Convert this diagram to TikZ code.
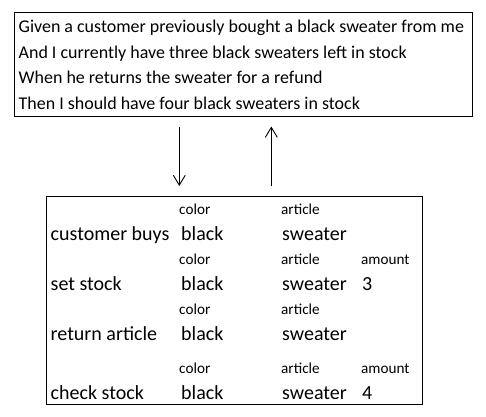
\documentclass[tikz,border=0pt]{standalone}
\usepackage{fontspec}
\setmainfont{Carlito}
\usetikzlibrary{arrows.meta}
\begin{document}
\begin{tikzpicture}[x=1pt,y=-1pt,
  box/.style={draw,line width=1pt,anchor=north west,inner sep=0pt},
  topline/.style={anchor=base west,inner sep=0pt,font=\fontsize{17.95}{20}\selectfont},
  big/.style={anchor=base west,inner sep=0pt,font=\fontsize{20}{22}\selectfont},
  small/.style={anchor=base west,inner sep=0pt,font=\fontsize{15.2}{17}\selectfont},
  arr/.style={line width=0.9pt,-{Straight Barb[length=10pt,width=12pt,line width=0.9pt]}}]
\useasboundingbox (0,0) rectangle (486,416);
% top box
\node[box,minimum width=457.5pt,minimum height=104pt] (top) at (14,11.5) {};
\node[topline] (t1) at (18.5,32.3) {Given a customer previously bought a black sweater from me};
\node[topline] (t2) at (18.5,58) {And I currently have three black sweaters left in stock};
\node[topline] (t3) at (18.5,83.8) {When he returns the sweater for a refund};
\node[topline] (t4) at (18.5,109.7) {Then I should have four black sweaters in stock};
% bottom box
\node[box,minimum width=375.5pt,minimum height=208.5pt] (bot) at (46,195.5) {};
% row 1
\node[small] (c1) at (179,214) {color};
\node[small] (a1) at (281,214) {article};
\node[big] (r1) at (50.5,240) {customer buys};
\node[big] (b1) at (181,240) {black};
\node[big] (s1) at (282,240) {sweater};
% row 2
\node[small] (c2) at (179,264) {color};
\node[small] (a2) at (281,264) {article};
\node[small] (m2) at (361,264) {amount};
\node[big] (r2) at (50.5,290) {set stock};
\node[big] (b2) at (181,290) {black};
\node[big] (s2) at (282,290) {sweater};
\node[big] (n2) at (362,290) {3};
% row 3
\node[small] (c3) at (179,314) {color};
\node[small] (a3) at (281,314) {article};
\node[big] (r3) at (50.5,340) {return article};
\node[big] (b3) at (181,340) {black};
\node[big] (s3) at (282,340) {sweater};
% row 4
\node[small] (c4) at (179,373) {color};
\node[small] (a4) at (281,373) {article};
\node[small] (m4) at (361,373) {amount};
\node[big] (r4) at (50.5,399) {check stock};
\node[big] (b4) at (181,399) {black};
\node[big] (s4) at (282,399) {sweater};
\node[big] (n4) at (362,399) {4};
% arrows
\coordinate (xd) at (179.3,0);
\coordinate (xu) at (271.3,0);
\draw[arr,shorten <=10pt,shorten >=9.5pt] (top.south -| xd) -- (bot.north -| xd);
\draw[arr,shorten <=9.5pt,shorten >=10pt] (bot.north -| xu) -- (top.south -| xu);
\end{tikzpicture}
\end{document}
